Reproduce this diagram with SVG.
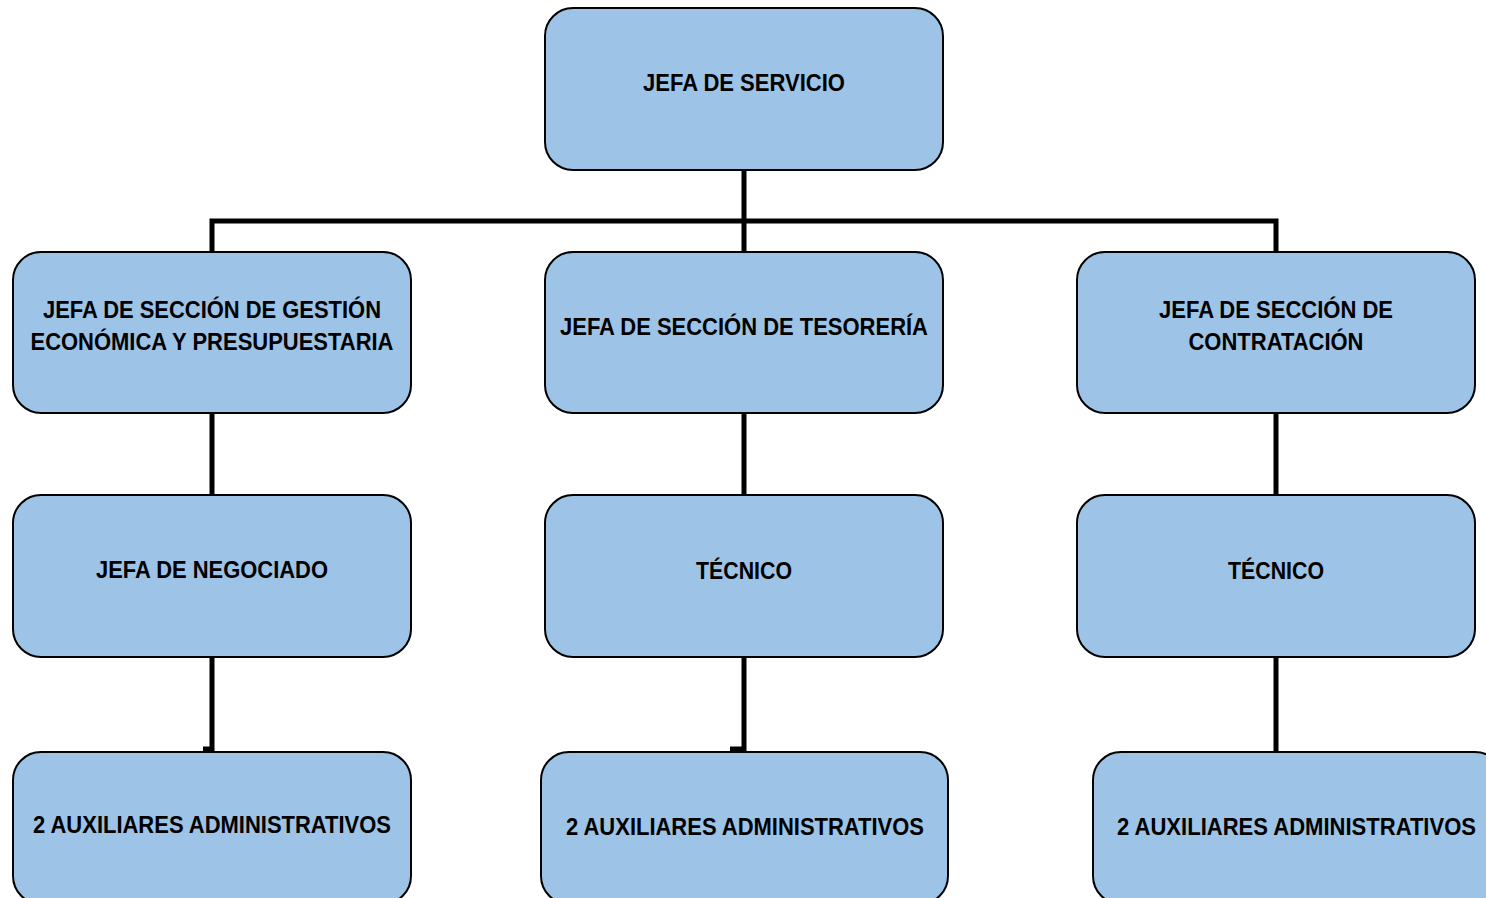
<svg xmlns="http://www.w3.org/2000/svg" width="1486" height="898" viewBox="0 0 1486 898">
<style>
.box{fill:#9DC3E6;stroke:#000;stroke-width:2}
.t{font-family:"Liberation Sans",Arial,sans-serif;font-weight:bold;font-size:24px;fill:#000;text-anchor:middle}
.c{stroke:#000;stroke-width:5;fill:none}
</style>
<rect width="1486" height="898" fill="#fff"/>
<g id="connectors">
<line class="c" x1="744" y1="170" x2="744" y2="252"/>
<polyline class="c" points="212,252 212,221 1276,221 1276,252"/>
<line class="c" x1="212" y1="413" x2="212" y2="495"/>
<line class="c" x1="744" y1="413" x2="744" y2="495"/>
<line class="c" x1="1276" y1="413" x2="1276" y2="495"/>
<polyline class="c" points="212,657 212,749 203,749"/>
<polyline class="c" points="744,657 744,749 730,749"/>
<line class="c" x1="1276" y1="657" x2="1276" y2="752"/>
</g>
<g id="n-jefa-servicio">
<rect class="box" x="545" y="8" width="398" height="162" rx="28"/>
<text class="t" x="744" y="91" font-size="25" textLength="202" lengthAdjust="spacingAndGlyphs">JEFA DE SERVICIO</text>
</g>
<g id="n-gestion">
<rect class="box" x="13" y="252" width="398" height="161" rx="28"/>
<text class="t" x="212" y="318" textLength="338" lengthAdjust="spacingAndGlyphs">JEFA DE SECCIÓN DE GESTIÓN</text>
<text class="t" x="212" y="350" textLength="363" lengthAdjust="spacingAndGlyphs">ECONÓMICA Y PRESUPUESTARIA</text>
</g>
<g id="n-tesoreria">
<rect class="box" x="545" y="252" width="398" height="161" rx="28"/>
<text class="t" x="744" y="335" textLength="368" lengthAdjust="spacingAndGlyphs">JEFA DE SECCIÓN DE TESORERÍA</text>
</g>
<g id="n-contratacion">
<rect class="box" x="1077" y="252" width="398" height="161" rx="28"/>
<text class="t" x="1276" y="318" textLength="234" lengthAdjust="spacingAndGlyphs">JEFA DE SECCIÓN DE</text>
<text class="t" x="1276" y="350" textLength="175" lengthAdjust="spacingAndGlyphs">CONTRATACIÓN</text>
</g>
<g id="n-negociado">
<rect class="box" x="13" y="495" width="398" height="162" rx="28"/>
<text class="t" x="212" y="578" textLength="232" lengthAdjust="spacingAndGlyphs">JEFA DE NEGOCIADO</text>
</g>
<g id="n-tecnico-1">
<rect class="box" x="545" y="495" width="398" height="162" rx="28"/>
<text class="t" x="744" y="579" textLength="96" lengthAdjust="spacingAndGlyphs">TÉCNICO</text>
</g>
<g id="n-tecnico-2">
<rect class="box" x="1077" y="495" width="398" height="162" rx="28"/>
<text class="t" x="1276" y="579" textLength="96" lengthAdjust="spacingAndGlyphs">TÉCNICO</text>
</g>
<g id="n-aux-1">
<rect class="box" x="13" y="752" width="398" height="152" rx="28"/>
<text class="t" x="212" y="833" textLength="358" lengthAdjust="spacingAndGlyphs">2 AUXILIARES ADMINISTRATIVOS</text>
</g>
<g id="n-aux-2">
<rect class="box" x="541" y="752" width="407" height="152" rx="28"/>
<text class="t" x="745" y="835" textLength="358" lengthAdjust="spacingAndGlyphs">2 AUXILIARES ADMINISTRATIVOS</text>
</g>
<g id="n-aux-3">
<rect class="box" x="1093" y="752" width="410" height="152" rx="28"/>
<text class="t" x="1296.5" y="835" textLength="359" lengthAdjust="spacingAndGlyphs">2 AUXILIARES ADMINISTRATIVOS</text>
</g>
</svg>
